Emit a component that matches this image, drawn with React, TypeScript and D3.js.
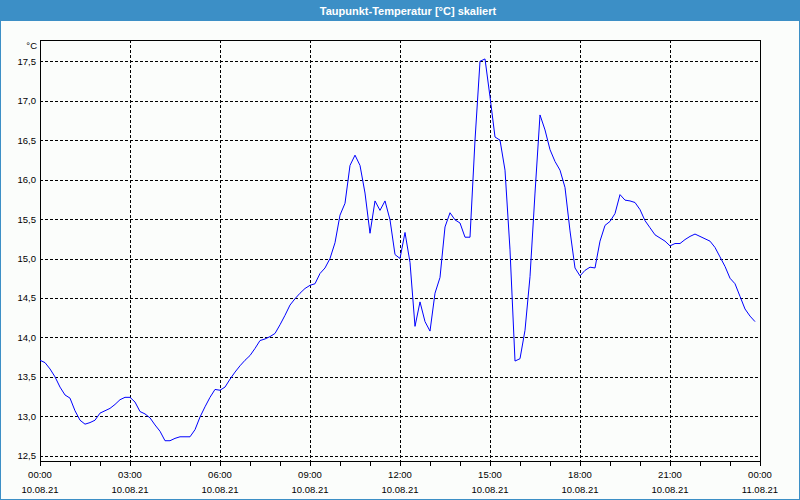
import React from "react";
import * as d3 from "d3";

const title = "Taupunkt-Temperatur [°C] skaliert";
const unitLabel = "°C";
const startTime = new Date(2021, 7, 10, 0, 0);
const endTime = new Date(2021, 7, 11, 0, 0);
const stepMinutes = 10;
const yTicks = [12.5, 13.0, 13.5, 14.0, 14.5, 15.0, 15.5, 16.0, 16.5, 17.0, 17.5];
const yDomain = [12.433, 17.77];
const dewPoint = [
  13.71, 13.68, 13.6, 13.5, 13.37, 13.27, 13.23, 13.07, 12.95, 12.9,
  12.92, 12.95, 13.04, 13.07, 13.1, 13.15, 13.21, 13.24, 13.24, 13.18,
  13.06, 13.03, 12.98, 12.89, 12.81, 12.69, 12.69, 12.72, 12.74, 12.74,
  12.74, 12.83, 12.99, 13.12, 13.24, 13.34, 13.33, 13.37, 13.47, 13.56,
  13.64, 13.71, 13.77, 13.86, 13.96, 13.98, 14.01, 14.05, 14.16, 14.28,
  14.41, 14.49, 14.56, 14.62, 14.66, 14.68, 14.81, 14.88, 15.0, 15.2,
  15.55, 15.7, 16.18, 16.31, 16.18, 15.83, 15.32, 15.73, 15.61, 15.73,
  15.49, 15.05, 15.0, 15.33, 14.95, 14.14, 14.45, 14.2, 14.08, 14.56,
  14.76, 15.4, 15.58, 15.49, 15.45, 15.27, 15.27, 16.5, 17.5, 17.53,
  17.05, 16.54, 16.5, 16.12, 15.11, 13.7, 13.73, 14.09, 14.77, 15.83,
  16.82, 16.63, 16.38, 16.23, 16.12, 15.9, 15.35, 14.88, 14.78, 14.85,
  14.89, 14.88, 15.22, 15.42, 15.47, 15.57, 15.81, 15.74, 15.73, 15.71,
  15.62, 15.48, 15.39, 15.3, 15.26, 15.22, 15.16, 15.19, 15.19, 15.24,
  15.28, 15.31, 15.28, 15.25, 15.22, 15.14, 15.02, 14.9, 14.75, 14.68,
  14.52, 14.36, 14.27, 14.2,
];

const W = 800;
const H = 500;
const plot = { left: 40, right: 760, top: 40, bottom: 461 };
const font = "'Liberation Sans', Arial, sans-serif";

export default function App() {
  const x = d3.scaleTime().domain([startTime, endTime]).range([plot.left, plot.right]);
  const y = d3.scaleLinear().domain(yDomain).range([plot.bottom, plot.top]);
  const data = dewPoint.map((v, i) => ({
    t: d3.timeMinute.offset(startTime, i * stepMinutes),
    v,
  }));
  const line = d3
    .line<{ t: Date; v: number }>()
    .x((d) => x(d.t))
    .y((d) => y(d.v));
  const majorTicks = d3.timeHour.every(3)!.range(startTime, d3.timeMinute.offset(endTime, 1));
  const minorTicks = d3.timeHour.every(1)!.range(startTime, d3.timeMinute.offset(endTime, 1));
  const fmtTime = d3.timeFormat("%H:%M");
  const fmtDate = d3.timeFormat("%d.%m.%y");
  const fmtY = (v: number) => v.toFixed(1).replace(".", ",");

  return (
    <svg
      width={W}
      height={H}
      style={{ position: "absolute", left: 0, top: 0, display: "block" }}
    >
      <rect x={0} y={0} width={W} height={H} fill="#fbfdfb" />
      <rect x={0.5} y={0.5} width={W - 1} height={H - 1} fill="none" stroke="#3c8fc6" />
      <rect x={0} y={0} width={W} height={21} fill="#3c8fc6" />
      <text
        x={408}
        y={10.5}
        textAnchor="middle"
        dominantBaseline="central"
        fill="#ffffff"
        fontFamily={font}
        fontWeight="bold"
        fontSize={11}
      >
        {title}
      </text>

      {/* horizontal grid */}
      {yTicks.map((t) => (
        <line
          key={"gy" + t}
          x1={plot.left}
          x2={plot.right}
          y1={Math.round(y(t)) + 0.5}
          y2={Math.round(y(t)) + 0.5}
          stroke="#000"
          strokeDasharray="3,2"
          shapeRendering="crispEdges"
        />
      ))}
      {/* vertical grid */}
      {majorTicks.slice(1, -1).map((t) => (
        <line
          key={"gx" + t.getTime()}
          x1={Math.round(x(t)) + 0.5}
          x2={Math.round(x(t)) + 0.5}
          y1={plot.top}
          y2={plot.bottom}
          stroke="#000"
          strokeDasharray="3,2"
          shapeRendering="crispEdges"
        />
      ))}

      {/* frame */}
      <path
        d={`M${plot.left + 0.5},${plot.bottom + 0.5}V${plot.top + 0.5}H${plot.right + 0.5}V${plot.bottom + 0.5}H${plot.left + 0.5}`}
        fill="none"
        stroke="#000"
        shapeRendering="crispEdges"
      />

      {/* x ticks */}
      {minorTicks.map((t) => (
        <line
          key={"tx" + t.getTime()}
          x1={Math.round(x(t)) + 0.5}
          x2={Math.round(x(t)) + 0.5}
          y1={plot.bottom}
          y2={plot.bottom + 5}
          stroke="#000"
          shapeRendering="crispEdges"
        />
      ))}
      {majorTicks.map((t) => (
        <g key={"lx" + t.getTime()} fontFamily={font} fontSize={9.5} fill="#000" textAnchor="middle">
          <text x={x(t)} y={474} dominantBaseline="central">
            {fmtTime(t)}
          </text>
          <text x={x(t)} y={489} dominantBaseline="central">
            {fmtDate(t)}
          </text>
        </g>
      ))}

      {/* y labels */}
      {yTicks.map((t) => (
        <text
          key={"ly" + t}
          x={36}
          y={y(t)}
          textAnchor="end"
          dominantBaseline="central"
          fontFamily={font}
          fontSize={9.5}
          fill="#000"
        >
          {fmtY(t)}
        </text>
      ))}
      <text
        x={37}
        y={45}
        textAnchor="end"
        dominantBaseline="central"
        fontFamily={font}
        fontSize={9.5}
        fill="#000"
      >
        {unitLabel}
      </text>

      <path d={line(data) || ""} fill="none" stroke="#0000ff" strokeWidth={1} />
    </svg>
  );
}
